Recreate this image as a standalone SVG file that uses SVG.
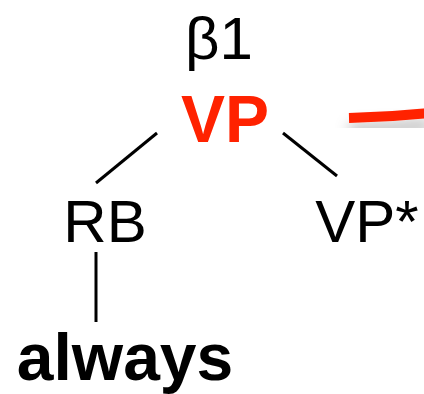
<svg xmlns="http://www.w3.org/2000/svg" width="424" height="394" viewBox="0 0 424 394">
<defs>
<style>
text{font-family:"Liberation Sans",Arial,sans-serif;fill:#000;text-anchor:middle}
.b{font-weight:bold}
.edge{stroke:#000;stroke-width:3;fill:none}
</style>
<filter id="sh" x="-20%" y="-100%" width="140%" height="400%">
<feDropShadow dx="0" dy="12" stdDeviation="7" flood-color="#000" flood-opacity="0.3"/>
</filter>
</defs>
<rect width="424" height="394" fill="#fff"/>
<g id="connectors">
<line class="edge" x1="157" y1="133" x2="96" y2="183"/>
<line class="edge" x1="283" y1="133" x2="337" y2="176"/>
<line class="edge" x1="96" y1="252" x2="96" y2="322"/>
<path d="M349 118 Q390 117 430 113" stroke="#ff2200" stroke-width="10" fill="none" filter="url(#sh)"/>
</g>
<g id="beta"><text x="219" y="59" font-size="60">β1</text></g>
<g id="vp"><text class="b" x="225" y="142" font-size="66" style="fill:#ff2200">VP</text></g>
<g id="rb"><text x="105" y="242" font-size="60">RB</text></g>
<g id="vpstar"><text x="367" y="242" font-size="60">VP*</text></g>
<g id="always"><text class="b" x="125" y="380" font-size="66">always</text></g>
</svg>
